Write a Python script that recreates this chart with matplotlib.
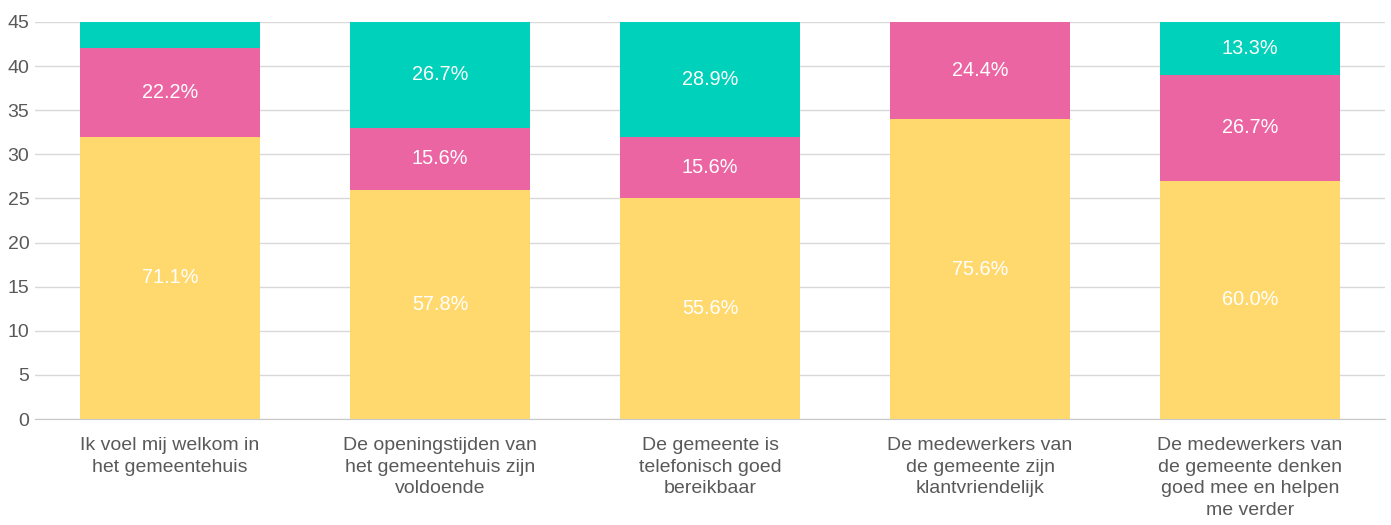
import numpy as np
import matplotlib.pyplot as plt

plt.rcParams['font.family'] = ['Liberation Sans', 'DejaVu Sans']

categories = [
    "Ik voel mij welkom in\nhet gemeentehuis",
    "De openingstijden van\nhet gemeentehuis zijn\nvoldoende",
    "De gemeente is\ntelefonisch goed\nbereikbaar",
    "De medewerkers van\nde gemeente zijn\nklantvriendelijk",
    "De medewerkers van\nde gemeente denken\ngoed mee en helpen\nme verder",
]
yellow_vals = [32, 26, 25, 34, 27]
pink_vals = [10, 7, 7, 11, 12]
teal_vals = [3, 12, 13, 0, 6]
colors = ['#FFD96E', '#EC65A3', '#00D1BA']

fig = plt.figure(figsize=(13.91, 5.25), dpi=100)
ax = fig.add_axes([35 / 1391, 1 - 419 / 525, 1350 / 1391, 397 / 525])

x = np.arange(len(categories))
series = [yellow_vals, pink_vals, teal_vals]
totals = np.sum(series, axis=0)
bottom = np.zeros(len(categories))
for vals, col in zip(series, colors):
    vals = np.array(vals, dtype=float)
    ax.bar(x, vals, bottom=bottom, width=0.667, color=col, zorder=2)
    for xi, v, b, t in zip(x, vals, bottom, totals):
        if v >= 5:
            ax.text(xi, b + v / 2, f"{v / t * 100:.1f}%", ha='center', va='center',
                    color='white', fontsize=14.3, zorder=3)
    bottom += vals

ax.set_xlim(-0.5, len(categories) - 0.5)
ax.set_ylim(0, 45)
ax.set_yticks(range(0, 46, 5))
ax.set_xticks(x)
ax.set_xticklabels(categories, fontsize=14, color='#595959', linespacing=1.35)
ax.tick_params(axis='y', labelsize=14, colors='#595959', length=0, pad=4)
ax.tick_params(axis='x', length=0, pad=13)
ax.grid(axis='y', color='#d9d9d9', linewidth=1, zorder=0)
for s in ['top', 'right', 'left']:
    ax.spines[s].set_visible(False)
ax.spines['bottom'].set_color('#c8c8c8')

fig.savefig('out.png', dpi=100)
